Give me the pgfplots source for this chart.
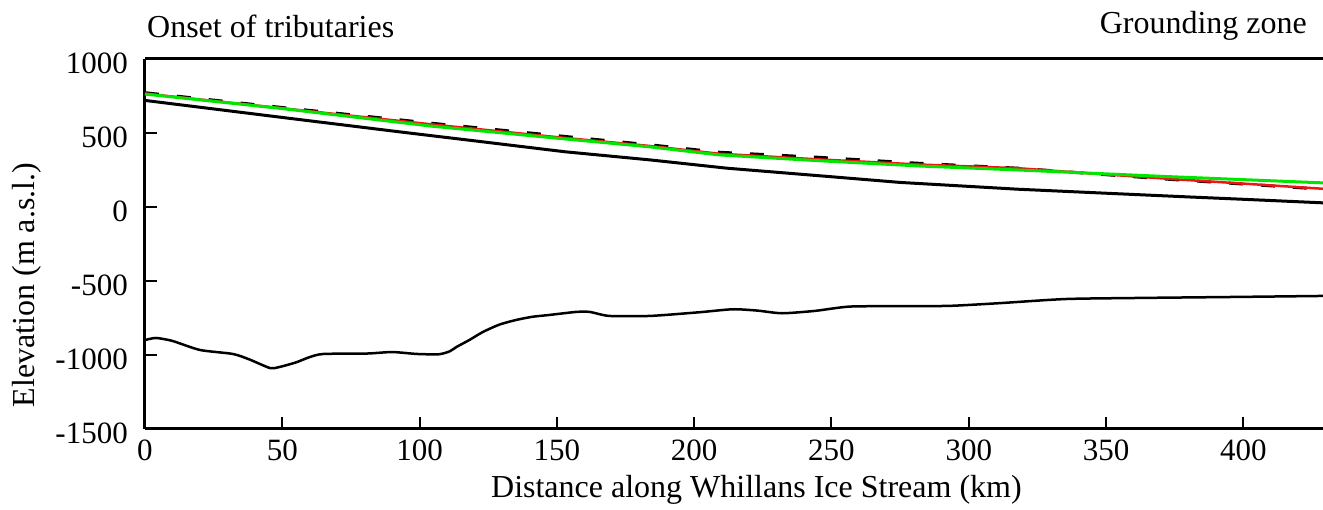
\documentclass[border=0pt]{standalone}
\usepackage{fontspec}
\setmainfont{Liberation Serif}
\usepackage{pgfplots}
\pgfplotsset{compat=1.18}
\definecolor{modelgreen}{RGB}{0,230,0}
\definecolor{modelred}{RGB}{240,20,20}
\begin{document}
\begin{tikzpicture}
\path[use as bounding box] (0,0) rectangle (1323pt,510pt);
\begin{axis}[
  at={(145pt,81pt)}, anchor=south west,
  scale only axis, width=1178pt, height=370pt,
  xmin=0, xmax=429, ymin=-1500, ymax=1000,
  axis x line*=box, axis y line*=left,
  axis line style={line width=3pt, black},
  xtick pos=bottom, ytick pos=left,
  tick align=inside, major tick length=12pt,
  tick style={line width=2pt, black},
  xtick={0,50,100,150,200,250,300,350,400},
  xticklabels={0,50,100,150,200,250,300,350,400},
  ytick={-1500,-1000,-500,0,500,1000},
  yticklabels={-1500,-1000,-500,0,500,1000},
  ticklabel style={font=\fontsize{31}{37}\selectfont},
  xticklabel style={anchor=north, inner sep=0pt, yshift=-11pt},
  yticklabel style={anchor=east, inner sep=0pt, xshift=-17pt, yshift=-4pt},
  label style={font=\fontsize{32}{38}\selectfont},
  xlabel={Distance along Whillans Ice Stream (km)},
  xlabel style={at={(axis description cs:0.519,-0.1838)}, anchor=base, inner sep=0pt},
  ylabel={Elevation (m a.s.l.)},
  ylabel style={at={(axis description cs:-0.0934,0.389)}, anchor=base, inner sep=0pt},
  clip=false,
]
% ice surface (observed, dashed)
\addplot[black, line width=3pt, dash pattern=on 14pt off 18pt] coordinates {
  (0,772) (50,672) (107,561) (150,482) (184,420) (209,370) (245,336) (282,295)
  (318,262) (345,225) (373,187) (400,155) (429,120)};
% modelled surface (red)
\addplot[modelred, line width=2.5pt] coordinates {
  (0,766) (50,667) (107,553) (150,472) (184,412) (209,360) (245,322) (282,287)
  (318,262) (345,226) (373,190) (400,158) (429,123)};
% modelled surface (green)
\addplot[modelgreen, line width=3pt] coordinates {
  (0,763) (50,665) (104,547) (150,465) (184,406) (209,352) (245,313) (282,277)
  (318,250) (373,205) (429,163)};
% ice base / lower surface
\addplot[black, line width=3pt] coordinates {
  (0,720) (50,605) (93,507) (120,447) (153,373) (184,318) (212,262)
  (245,212) (275,166) (318,120) (350,93) (380,68) (400,52) (429,28)};
% bed topography
\addplot[black, line width=2.5pt, smooth, tension=0.4] coordinates {
  (0,-899) (4,-885) (10,-905) (20,-966) (32,-993) (38,-1030) (45.5,-1088)
  (49,-1081) (55,-1050) (60,-1014) (65,-993) (81,-990) (90,-980) (99,-993)
  (107,-995) (111,-975) (113.5,-945) (118,-900) (123,-845) (129,-795)
  (135,-764) (141,-742) (147,-730) (157,-709) (162,-709) (169,-736)
  (184,-736) (202,-711) (214,-691) (223,-700) (232,-718) (244,-702)
  (256.5,-673) (275,-670) (293,-668) (311,-650) (335,-622) (360,-615)
  (396,-608) (429,-601)};
\node[anchor=base west, inner sep=0pt, font=\fontsize{32}{38}\selectfont]
  at (axis description cs:0.0017,1.0568) {Onset of tributaries};
\node[anchor=base east, inner sep=0pt, font=\fontsize{32}{38}\selectfont]
  at (axis description cs:0.9864,1.070) {Grounding zone};
\end{axis}
\end{tikzpicture}
\end{document}
